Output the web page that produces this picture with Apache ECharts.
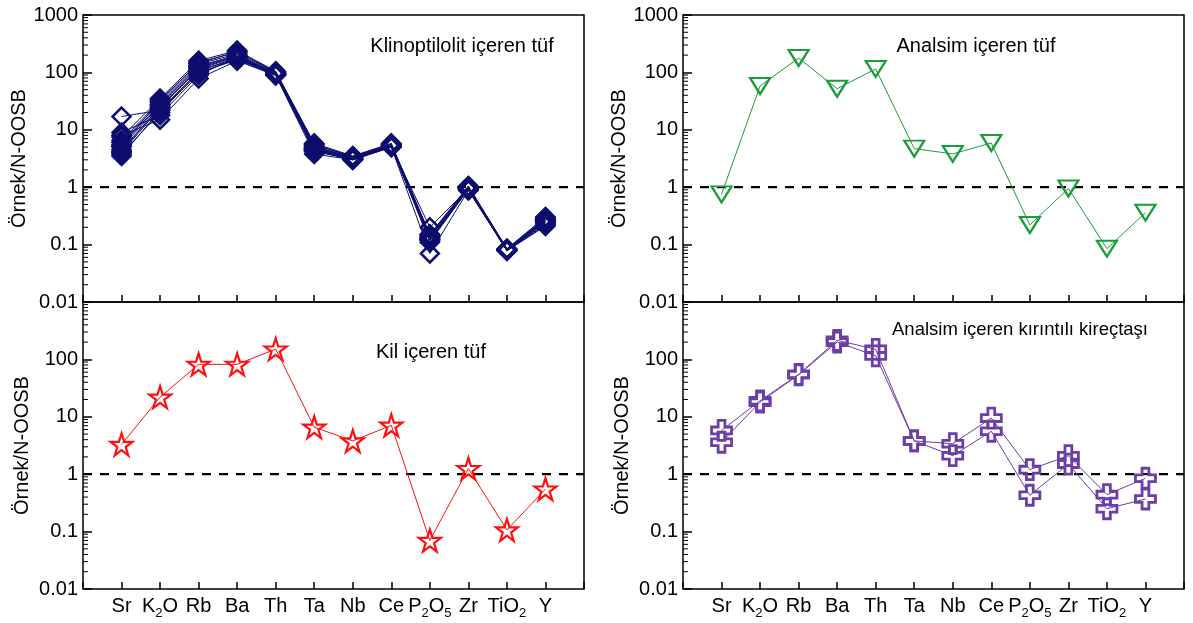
<!DOCTYPE html>
<html>
<head>
<meta charset="utf-8">
<script src="https://cdn.jsdelivr.net/npm/echarts@6/dist/echarts.min.js"></script>
<style>
html,body{margin:0;padding:0;background:#fff;}
#chart{width:1193px;height:623px;}
</style>
</head>
<body>
<div id="chart"></div>
<script>
// ---- Data ----
const categories = ['Sr','K2O','Rb','Ba','Th','Ta','Nb','Ce','P2O5','Zr','TiO2','Y'];
const categoryLabels = ['{m|Sr}','{m|K}{s|2}{m|O}','{m|Rb}','{m|Ba}','{m|Th}','{m|Ta}','{m|Nb}','{m|Ce}','{m|P}{s|2}{m|O}{s|5}','{m|Zr}','{m|TiO}{s|2}','{m|Y}'];
const yTickValues = [0.01, 0.1, 1, 10, 100, 1000];

// Klinoptilolit içeren tüf (many samples)
const klino01 = [17, 22, 95, 175, 92, 4.2, 3.1, 5.1, 0.2, 0.95, 0.08, 0.25];
const klino02 = [8, 15, 78, 160, 88, 3.8, 3.0, 5.0, 0.07, 0.88, 0.078, 0.21];
const klino03 = [7.5, 35, 160, 240, 105, 5.8, 3.5, 5.8, 0.15, 1.05, 0.085, 0.3];
const klino04 = [6.5, 32, 150, 225, 100, 5.5, 3.4, 5.6, 0.14, 1.0, 0.083, 0.29];
const klino05 = [6, 30, 140, 210, 98, 5.2, 3.3, 5.5, 0.13, 0.98, 0.082, 0.28];
const klino06 = [5.5, 28, 130, 200, 96, 5.0, 3.3, 5.4, 0.12, 0.97, 0.081, 0.27];
const klino07 = [5, 27, 125, 195, 95, 4.8, 3.2, 5.3, 0.12, 0.95, 0.08, 0.26];
const klino08 = [4.5, 25, 120, 190, 93, 4.6, 3.2, 5.2, 0.11, 0.93, 0.08, 0.25];
const klino09 = [4, 24, 115, 185, 92, 4.5, 3.1, 5.1, 0.12, 0.92, 0.079, 0.24];
const klino10 = [3.5, 22, 105, 180, 90, 4.3, 3.0, 5.0, 0.13, 0.9, 0.078, 0.23];
const klino11 = [4.2, 26, 110, 170, 94, 4.7, 3.1, 5.2, 0.15, 0.96, 0.082, 0.27];
const klino12 = [3.8, 20, 100, 165, 91, 4.4, 3.0, 5.0, 0.12, 0.9, 0.079, 0.22];
const klino13 = [5.2, 33, 145, 230, 102, 5.6, 3.4, 5.7, 0.14, 1.02, 0.084, 0.3];
const klino14 = [9, 18, 90, 185, 97, 4.9, 3.3, 5.3, 0.13, 0.95, 0.081, 0.26];
const klinoSamples = [klino01, klino02, klino03, klino04, klino05, klino06, klino07, klino08, klino09, klino10, klino11, klino12, klino13, klino14];

// Analsim içeren tüf
const analsimTuf = [0.75, 58, 178, 52, 115, 4.7, 3.8, 5.9, 0.22, 0.95, 0.085, 0.36];
// Kil içeren tüf
const kilTuf = [3.3, 22, 82, 82, 151, 6.6, 3.8, 7.1, 0.07, 1.25, 0.107, 0.55];
// Analsim içeren kırıntılı kireçtaşı
const kirecA = [5.8, 19, 55, 215, 150, 3.8, 3.4, 9.5, 1.2, 2.1, 0.44, 0.85];
const kirecB = [3.6, 18, 54, 200, 115, 3.8, 2.1, 5.6, 0.43, 1.5, 0.25, 0.37];

const panelTitles = ['Klinoptilolit içeren tüf', 'Analsim içeren tüf', 'Kil içeren tüf', 'Analsim içeren kırıntılı kireçtaşı'];
const yName = 'Örnek/N-OOSB';

// ---- Styles ----
const FONT = 'Liberation Sans, Arial, sans-serif';
const NAVY = '#0d0d6e';
const GREEN = '#1a9c3a';
const RED = '#ff1010';
const PURPLE = '#6b3ea8';
const STAR = 'path://M50,0 L61.2,34.5 L97.6,34.5 L68.2,55.9 L79.4,90.5 L50,69.1 L20.6,90.5 L31.8,55.9 L2.4,34.5 L38.8,34.5 Z';
const PLUS = 'path://M3.3,0 H6.7 V3.3 H10 V6.7 H6.7 V10 H3.3 V6.7 H0 V3.3 H3.3 Z';

const grids = [
  {left: 83, top: 15, width: 501, height: 287},
  {left: 683, top: 15, width: 501, height: 287},
  {left: 83, top: 302, width: 501, height: 287},
  {left: 683, top: 302, width: 501, height: 287}
];

function toXY(arr){ return arr.map((v,i)=>[i+1, v]); }

const minorVals = [];
[-2,-1,0,1,2].forEach(e=>{ for(let k=2;k<=9;k++){ minorVals.push(+(k*Math.pow(10,e)).toPrecision(3)); } });

const xAxes = grids.map((g,i)=>({
  type:'value', gridIndex:i, min:0, max:13, interval:1,
  axisLine:{show:false},
  axisTick:{show:true, inside:true, length:7, lineStyle:{color:'#000', width:1.5}},
  splitLine:{show:false},
  axisLabel:{
    show: i>=2, margin:3, color:'#000', fontFamily:FONT, fontSize:20,
    formatter: v => (v>=1 && v<=12) ? categoryLabels[v-1] : '',
    rich:{
      m:{fontSize:20, fontFamily:FONT, color:'#000', lineHeight:28},
      s:{fontSize:13, fontFamily:FONT, color:'#000', lineHeight:13, padding:[15,0,0,0]}
    }
  }
}));

const yAxes = grids.map((g,i)=>({
  type:'log', logBase:10, gridIndex:i, min:0.01, max:1000, interval:1,
  axisLine:{show:false},
  axisTick:{show:true, inside:true, length:9, lineStyle:{color:'#000', width:1.5}},
  minorTick:{show:false},
  splitLine:{show:false},
  axisLabel:{
    margin:5, color:'#000', fontFamily:FONT, fontSize:20,
    formatter: v => { if (i>=2 && v>=999) return ''; return String(+v.toPrecision(3)); }
  },
  name: yName, nameLocation:'middle', nameRotate:90, nameGap:51,
  nameTextStyle:{color:'#000', fontFamily:FONT, fontSize:20}
}));

const series = [];
function lineSeries(idx, data, color, symbol, size, rotate, bw){
  return {
    type:'line', xAxisIndex:idx, yAxisIndex:idx, data: toXY(data),
    symbol: symbol, symbolSize: size, symbolRotate: rotate||0,
    showAllSymbol:true,
    lineStyle:{color:color, width:1},
    itemStyle:{color:'rgba(255,255,255,0)', borderColor:color, borderWidth:bw},
    emphasis:{disabled:true}, animation:false, z:3
  };
}
klinoSamples.forEach(s=>series.push(lineSeries(0, s, NAVY, 'diamond', 18, 0, 2.5)));
series.push(lineSeries(1, analsimTuf, GREEN, 'triangle', [20,16], 180, 2.2));
series.push(lineSeries(2, kilTuf, RED, STAR, 22, 0, 2.2));
series.push(lineSeries(3, kirecA, PURPLE, PLUS, 20, 0, 2.8));
series.push(lineSeries(3, kirecB, PURPLE, PLUS, 20, 0, 2.8));

// dashed reference line at 1 and minor ticks for every panel
grids.forEach((g,i)=>{
  series.push({
    type:'line', xAxisIndex:i, yAxisIndex:i, data:[[0,1],[13,1]],
    symbol:'none', lineStyle:{color:'#000', width:2.2, type:[9,8]}, z:2, animation:false, silent:true
  });
  series.push({
    type:'custom', xAxisIndex:i, yAxisIndex:i, silent:true, animation:false, clip:false,
    data: minorVals.map(v=>[0, v]),
    renderItem:(params, api)=>{
      const p = api.coord([0, api.value(1)]);
      return {type:'line', shape:{x1:p[0], y1:p[1], x2:p[0]+5, y2:p[1]}, style:{stroke:'#000', lineWidth:1}};
    }
  });
});

const titlePos = [[462,46],[976,46],[431,352],[1020,330]];
const titleSize = [20, 20, 20, 18.5];
const graphics = panelTitles.map((t,i)=>({
  type:'text', x:titlePos[i][0], y:titlePos[i][1], silent:true,
  style:{text:t, fill:'#000', font:titleSize[i]+'px '+FONT, textAlign:'center', textVerticalAlign:'middle'}
}));

const chart = echarts.init(document.getElementById('chart'), null, {renderer:'canvas'});
chart.setOption({
  backgroundColor:'#fff',
  animation:false,
  grid: grids.map(g=>Object.assign({show:true, borderColor:'#000', borderWidth:1.5, backgroundColor:'transparent', containLabel:false}, g)),
  xAxis: xAxes,
  yAxis: yAxes,
  series: series,
  graphic: graphics
});
</script>
</body>
</html>
